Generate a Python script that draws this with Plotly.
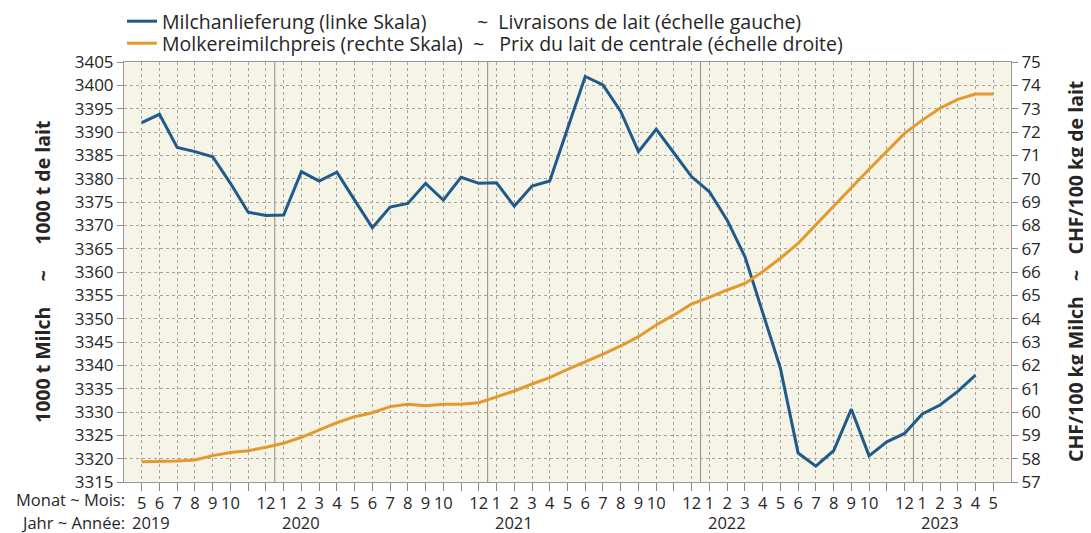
import plotly.graph_objects as go

# ---- data ----
months = [5, 6, 7, 8, 9, 10, 11, 12,
          1, 2, 3, 4, 5, 6, 7, 8, 9, 10, 11, 12,
          1, 2, 3, 4, 5, 6, 7, 8, 9, 10, 11, 12,
          1, 2, 3, 4, 5, 6, 7, 8, 9, 10, 11, 12,
          1, 2, 3, 4, 5]
years = [2019] * 8 + [2020] * 12 + [2021] * 12 + [2022] * 12 + [2023] * 5

milk_delivery = [3392.0, 3393.8, 3386.7, 3385.8, 3384.7, 3379.0, 3372.8, 3372.1,
                 3372.2, 3381.5, 3379.5, 3381.4, 3375.4, 3369.5, 3373.9, 3374.7, 3379.0, 3375.4, 3380.3, 3379.0,
                 3379.1, 3374.1, 3378.4, 3379.5, 3390.7, 3401.9, 3400.1, 3394.4, 3385.8, 3390.6, 3385.5, 3380.4,
                 3377.2, 3371.1, 3363.3, 3351.2, 3339.4, 3321.2, 3318.4, 3321.7, 3330.6, 3320.6, 3323.6, 3325.4,
                 3329.6, 3331.5, 3334.4, 3337.9, None]
milk_price = [57.87, 57.87, 57.90, 57.94, 58.13, 58.26, 58.34, 58.49,
              58.66, 58.91, 59.23, 59.54, 59.80, 59.97, 60.23, 60.33, 60.27, 60.33, 60.33, 60.40,
              60.65, 60.90, 61.20, 61.47, 61.83, 62.15, 62.48, 62.83, 63.23, 63.73, 64.16, 64.63,
              64.91, 65.23, 65.51, 66.01, 66.59, 67.23, 68.01, 68.80, 69.61, 70.40, 71.16, 71.94,
              72.51, 73.02, 73.40, 73.63, 73.63]

NB = "\u00a0"
name_delivery = "Milchanlieferung (linke Skala)" + NB * 10 + "~" + NB * 2 + "Livraisons de lait (échelle gauche)"
name_price = "Molkereimilchpreis (rechte Skala)" + NB * 2 + "~" + NB * 3 + "Prix du lait de centrale (échelle droite)"
left_title = "1000 t Milch" + NB * 5 + "~" + NB * 5 + "1000 t de lait"
right_title = "CHF/100 kg Milch" + NB * 3 + "~" + NB * 3 + "CHF/100 kg de lait"
month_row_label = "Monat ~ Mois:"
year_row_label = "Jahr ~ Année:"

BLUE = "#1F5B8A"
ORANGE = "#E29A2E"
TXT = "#262626"
FONT = "Open Sans"
TICK_SIZE = 17
XLAB_SIZE = 16.5
TITLE_SIZE = 19.5
LEGEND_SIZE = 19.5

idx = list(range(len(months)))
ticktext = ["" if m == 11 else str(m) for m in months]

# page body has an 8px margin; lay out in screen pixels and convert
OFF = 8
W, H = 1091 - OFF, 533 - OFF
plot_l, plot_r, plot_t, plot_b = 124, 1011, 62, 482   # screen px
ml, mr = plot_l - OFF, W - (plot_r - OFF)
mt, mb = plot_t - OFF, H - (plot_b - OFF)
pw = plot_r - plot_l
ph = plot_b - plot_t


def px_x(sx):
    return (sx - plot_l) / pw


def px_y(sy):
    return (plot_b - sy) / ph


fig = go.Figure()
fig.add_trace(go.Scatter(x=idx, y=milk_delivery, mode="lines", name=name_delivery,
                         line=dict(color=BLUE, width=3), yaxis="y", legend="legend"))
fig.add_trace(go.Scatter(x=idx, y=milk_price, mode="lines", name=name_price,
                         line=dict(color=ORANGE, width=3), yaxis="y2", legend="legend2"))

# year separators
for i, m in enumerate(months):
    if m == 1:
        fig.add_vline(x=i - 0.5, line=dict(color="#8A8A8A", width=1), layer="below")

# year labels
seen = set()
for i, (m, y) in enumerate(zip(months, years)):
    if y in seen:
        continue
    seen.add(y)
    xpos = i + 0.5 if y == 2019 else i + 1
    fig.add_annotation(x=xpos, xref="x", y=px_y(522), yref="paper", text=str(y),
                       showarrow=False, font=dict(size=XLAB_SIZE, color=TXT, family=FONT),
                       xanchor="center", yanchor="middle")

fig.add_annotation(x=px_x(127), xref="paper", y=px_y(499), yref="paper", text=month_row_label,
                   showarrow=False, font=dict(size=XLAB_SIZE, color=TXT, family=FONT),
                   xanchor="right", yanchor="middle")
fig.add_annotation(x=px_x(127), xref="paper", y=px_y(522), yref="paper", text=year_row_label,
                   showarrow=False, font=dict(size=XLAB_SIZE, color=TXT, family=FONT),
                   xanchor="right", yanchor="middle")
fig.add_annotation(x=px_x(42), xref="paper", y=0.5, yref="paper", text="<b>" + left_title + "</b>",
                   showarrow=False, textangle=-90, xanchor="center", yanchor="middle",
                   font=dict(size=TITLE_SIZE, color=TXT, family=FONT))
fig.add_annotation(x=px_x(1075), xref="paper", y=0.5, yref="paper", text="<b>" + right_title + "</b>",
                   showarrow=False, textangle=-90, xanchor="center", yanchor="middle",
                   font=dict(size=TITLE_SIZE, color=TXT, family=FONT))

legend_common = dict(xanchor="left", yanchor="top", yref="paper", orientation="v",
                     font=dict(size=LEGEND_SIZE, color=TXT, family=FONT),
                     bgcolor="rgba(0,0,0,0)", itemwidth=30)

fig.update_layout(
    width=W, height=H,
    margin=dict(l=ml, r=mr, t=mt, b=mb, autoexpand=False),
    paper_bgcolor="white",
    plot_bgcolor="#F6F4E6",
    font=dict(family=FONT, size=TICK_SIZE, color=TXT),
    showlegend=True,
    legend=dict(x=px_x(122), y=px_y(2), **legend_common),
    legend2=dict(x=px_x(122), y=px_y(24), **legend_common),
    xaxis=dict(range=[-1, len(months)], tickmode="array", tickvals=idx, ticktext=ticktext,
               ticks="outside", ticklen=8, tickcolor="#8A8A8A", tickwidth=1,
               ticklabelstandoff=-2,
               showgrid=True, gridcolor="#A5A5A0", griddash="dot", gridwidth=1,
               showline=True, linecolor="#9A9A9A", mirror=True, zeroline=False,
               tickfont=dict(size=XLAB_SIZE, color=TXT), tickangle=0),
    yaxis=dict(range=[3315, 3405], dtick=5, tick0=3315, ticks="outside", ticklen=6,
               tickcolor="#8A8A8A", showgrid=True, gridcolor="#A5A5A0", griddash="dot",
               showline=True, linecolor="#9A9A9A", zeroline=False,
               tickfont=dict(size=TICK_SIZE, color=TXT)),
    yaxis2=dict(range=[57, 75], dtick=1, tick0=57, overlaying="y", side="right",
                ticks="outside", ticklen=6, tickcolor="#8A8A8A", showgrid=False,
                showline=True, linecolor="#9A9A9A", zeroline=False,
                tickfont=dict(size=TICK_SIZE, color=TXT)),
)

fig.write_html("out.html")
